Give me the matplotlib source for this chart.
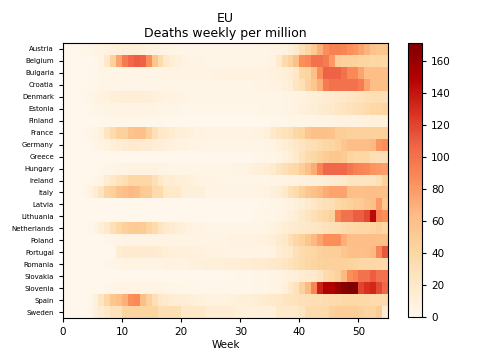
import numpy as np
import matplotlib
matplotlib.use("Agg")
import matplotlib.pyplot as plt

countries = ["Austria", "Belgium", "Bulgaria", "Croatia", "Denmark", "Estonia",
             "Finland", "France", "Germany", "Greece", "Hungary", "Ireland",
             "Italy", "Latvia", "Lithuania", "Netherlands", "Poland", "Portugal",
             "Romania", "Slovakia", "Slovenia", "Spain", "Sweden"]

# weekly deaths per million, weeks 0..54
austria = [1, 1, 1, 2, 3, 5, 6, 8, 9, 10,
           11, 12, 11, 10, 9, 7, 6, 5, 4, 4,
           3, 3, 3, 3, 3, 3, 3, 3, 3, 3,
           3, 3, 3, 4, 4, 5, 6, 8, 11, 18,
           30, 40, 52, 70, 85, 92, 92, 90, 85, 82,
           75, 68, 58, 55, 55]
belgium = [1, 1, 1, 1, 1, 2, 5, 20, 45, 75,
           95, 105, 110, 108, 85, 55, 35, 20, 14, 10,
           8, 6, 5, 5, 4, 4, 4, 4, 4, 4,
           4, 4, 4, 4, 5, 8, 18, 35, 45, 60,
           85, 88, 100, 100, 95, 80, 48, 45, 45, 44,
           42, 42, 40, 40, 38]
bulgaria = [1, 1, 1, 1, 2, 2, 3, 3, 3, 3,
            3, 4, 4, 4, 4, 4, 5, 5, 5, 5,
            5, 6, 6, 6, 6, 7, 7, 7, 7, 7,
            8, 8, 8, 8, 8, 9, 10, 12, 15, 22,
            40, 42, 60, 85, 108, 108, 108, 100, 88, 88,
            75, 62, 62, 62, 60]
croatia = [1, 1, 1, 1, 2, 2, 3, 3, 4, 4,
           4, 4, 4, 4, 4, 4, 4, 3, 3, 3,
           3, 3, 3, 3, 3, 3, 3, 3, 4, 4,
           4, 4, 5, 5, 6, 7, 8, 10, 14, 25,
           30, 45, 55, 70, 95, 100, 100, 100, 100, 100,
           95, 75, 62, 62, 62]
denmark = [1, 1, 1, 2, 3, 5, 7, 9, 11, 12,
           13, 14, 14, 13, 12, 10, 9, 8, 7, 6,
           5, 4, 3, 3, 3, 3, 3, 3, 3, 3,
           3, 3, 3, 3, 3, 4, 4, 5, 6, 7,
           8, 10, 12, 14, 16, 18, 20, 22, 24, 26,
           28, 30, 32, 32, 30]
estonia = [1, 1, 1, 1, 2, 3, 4, 5, 5, 6,
           6, 6, 6, 5, 5, 5, 4, 4, 3, 3,
           2, 2, 2, 2, 2, 2, 2, 2, 2, 2,
           2, 2, 2, 3, 3, 3, 4, 5, 6, 8,
           10, 12, 14, 16, 18, 20, 24, 26, 28, 30,
           32, 35, 38, 40, 42]
finland = [0, 0, 0, 1, 1, 1, 2, 2, 2, 2,
           2, 2, 2, 2, 2, 2, 2, 1, 1, 1,
           1, 1, 1, 1, 1, 1, 1, 1, 1, 1,
           1, 1, 1, 1, 1, 2, 2, 2, 3, 3,
           4, 4, 5, 5, 6, 6, 7, 7, 8, 8,
           9, 9, 10, 10, 10]
france = [1, 1, 1, 2, 3, 5, 10, 25, 35, 45,
          45, 58, 60, 60, 45, 30, 22, 20, 15, 12,
          12, 10, 8, 7, 6, 5, 5, 5, 5, 5,
          5, 6, 7, 8, 10, 20, 25, 28, 30, 40,
          42, 55, 60, 60, 60, 58, 48, 48, 46, 46,
          46, 46, 45, 45, 45]
germany = [1, 1, 1, 1, 2, 3, 5, 8, 12, 14,
           16, 18, 18, 17, 16, 14, 12, 10, 9, 8,
           7, 6, 5, 4, 4, 3, 3, 3, 3, 3,
           3, 3, 4, 4, 5, 6, 10, 14, 18, 22,
           26, 30, 32, 35, 40, 42, 45, 55, 62, 62,
           62, 62, 65, 82, 85]
greece = [0, 0, 0, 0, 1, 1, 1, 1, 1, 1,
          1, 1, 1, 1, 1, 1, 1, 1, 1, 1,
          1, 1, 1, 1, 1, 1, 1, 1, 1, 1,
          1, 1, 2, 2, 3, 4, 6, 9, 14, 20,
          28, 35, 40, 45, 50, 55, 55, 52, 42, 40,
          40, 40, 32, 30, 30]
hungary = [1, 1, 1, 1, 1, 1, 2, 3, 4, 5,
           6, 7, 8, 8, 8, 7, 6, 5, 4, 4,
           3, 3, 3, 3, 3, 3, 3, 3, 4, 5,
           6, 8, 10, 12, 14, 18, 25, 30, 35, 38,
           48, 60, 72, 90, 106, 106, 106, 106, 98, 92,
           90, 88, 82, 80, 78]
ireland = [1, 1, 1, 1, 2, 3, 6, 15, 22, 28,
           32, 40, 40, 40, 40, 30, 22, 15, 15, 12,
           12, 10, 8, 6, 5, 5, 4, 4, 4, 4,
           4, 4, 4, 4, 4, 5, 5, 6, 7, 8,
           9, 10, 11, 12, 14, 16, 18, 20, 25, 25,
           25, 25, 25, 30, 45]
italy = [1, 1, 1, 2, 8, 15, 25, 42, 45, 58,
         62, 65, 64, 52, 50, 35, 35, 22, 20, 20,
         12, 12, 12, 10, 6, 5, 5, 5, 5, 5,
         5, 5, 5, 6, 8, 10, 14, 20, 30, 35,
         45, 55, 60, 65, 72, 75, 75, 75, 62, 60,
         60, 62, 62, 60, 60]
latvia = [0, 0, 0, 0, 0, 0, 1, 1, 1, 1,
          1, 1, 1, 1, 1, 1, 1, 1, 1, 1,
          1, 1, 1, 1, 1, 1, 1, 1, 1, 1,
          1, 1, 1, 2, 2, 3, 4, 5, 7, 10,
          14, 18, 22, 28, 30, 32, 38, 42, 46, 50,
          50, 58, 62, 80, 55]
lithuania = [0, 0, 0, 0, 0, 0, 1, 1, 1, 1,
             1, 1, 1, 1, 1, 1, 1, 1, 1, 1,
             1, 1, 1, 1, 1, 1, 1, 1, 1, 1,
             1, 1, 2, 2, 3, 4, 5, 7, 10, 14,
             20, 25, 30, 35, 40, 45, 90, 100, 100, 110,
             110, 118, 145, 90, 85]
netherlands = [1, 1, 1, 1, 2, 6, 12, 20, 30, 40,
               45, 50, 52, 50, 42, 35, 25, 20, 16, 12,
               10, 8, 6, 5, 4, 4, 4, 4, 4, 4,
               4, 4, 4, 4, 5, 8, 10, 14, 16, 18,
               20, 22, 24, 26, 28, 30, 32, 35, 38, 38,
               40, 40, 42, 45, 40]
poland = [0, 0, 0, 0, 0, 0, 1, 2, 3, 4,
          5, 5, 6, 6, 6, 6, 6, 6, 6, 6,
          6, 6, 6, 6, 6, 6, 6, 6, 7, 7,
          7, 8, 8, 9, 10, 12, 16, 22, 30, 40,
          45, 55, 65, 75, 85, 85, 85, 70, 62, 62,
          62, 62, 62, 60, 60]
portugal = [0, 0, 0, 0, 0, 0, 0, 0, 0, 15,
            18, 18, 18, 18, 18, 16, 15, 12, 10, 10,
            10, 10, 9, 9, 8, 8, 8, 6, 5, 5,
            5, 5, 5, 5, 6, 8, 15, 18, 20, 30,
            35, 38, 40, 45, 48, 48, 48, 55, 60, 60,
            60, 62, 65, 90, 112]
romania = [0, 0, 0, 0, 0, 0, 1, 2, 3, 4,
           5, 5, 5, 5, 6, 6, 6, 7, 7, 8,
           8, 9, 10, 10, 11, 12, 12, 13, 14, 14,
           15, 15, 16, 17, 18, 20, 22, 24, 28, 32,
           36, 40, 42, 44, 45, 46, 46, 45, 44, 42,
           40, 40, 40, 38, 35]
slovakia = [0, 0, 0, 0, 0, 0, 1, 1, 1, 1,
            1, 1, 1, 1, 1, 1, 1, 1, 1, 1,
            1, 1, 1, 1, 1, 1, 1, 1, 1, 2,
            2, 2, 3, 3, 4, 5, 6, 8, 10, 12,
            15, 18, 20, 25, 35, 40, 45, 65, 85, 90,
            100, 100, 110, 100, 100]
slovenia = [0, 0, 0, 0, 0, 0, 1, 2, 3, 4,
            5, 6, 6, 6, 6, 5, 5, 4, 3, 3,
            2, 2, 2, 2, 2, 2, 2, 2, 2, 2,
            2, 2, 3, 3, 4, 5, 6, 10, 20, 28,
            45, 65, 90, 135, 150, 150, 160, 168, 171, 170,
            120, 128, 132, 118, 105]
spain = [0, 0, 0, 0, 2, 10, 25, 40, 55, 60,
         70, 85, 88, 62, 45, 30, 22, 18, 15, 14,
         13, 12, 10, 9, 8, 8, 8, 8, 9, 10,
         12, 12, 13, 15, 18, 20, 22, 25, 27, 28,
         30, 30, 32, 32, 34, 35, 36, 38, 38, 38,
         38, 38, 36, 36, 35]
sweden = [0, 0, 0, 0, 2, 10, 15, 20, 28, 28,
          42, 42, 42, 42, 42, 42, 32, 32, 32, 32,
          22, 22, 22, 22, 15, 15, 15, 15, 15, 12,
          10, 10, 10, 10, 10, 10, 20, 20, 20, 20,
          25, 35, 35, 35, 35, 45, 48, 48, 48, 48,
          46, 42, 42, 50, 15]

data = np.array([austria, belgium, bulgaria, croatia, denmark, estonia, finland,
                 france, germany, greece, hungary, ireland, italy, latvia,
                 lithuania, netherlands, poland, portugal, romania, slovakia,
                 slovenia, spain, sweden], dtype=float)
assert data.shape == (len(countries), 55)

fig = plt.figure(figsize=(4.8, 3.6), dpi=100)
ax = fig.add_axes([63 / 480, 1 - 318 / 360, 325 / 480, 275 / 360])
cax = fig.add_axes([408 / 480, 1 - 317 / 360, 14 / 480, 274 / 360])

weeks = np.arange(data.shape[1] + 1)
rows = np.arange(len(countries) + 1)
mesh = ax.pcolormesh(weeks, rows, data, cmap="OrRd", vmin=0, vmax=data.max())
ax.set_ylim(len(countries), 0)
ax.set_xlim(0, data.shape[1])

ax.set_yticks(np.arange(len(countries)) + 0.5)
ax.set_yticklabels(countries, fontsize=5)
ax.set_xticks([0, 10, 20, 30, 40, 50])
ax.tick_params(axis="x", labelsize=7.5, length=3)
ax.tick_params(axis="y", length=3)
ax.set_xlabel("Week", fontsize=7.5, labelpad=2)
ax.set_title("EU\nDeaths weekly per million", fontsize=9, pad=4)

cb = fig.colorbar(mesh, cax=cax)
cb.set_ticks([0, 20, 40, 60, 80, 100, 120, 140, 160])
cb.ax.tick_params(labelsize=7.5, length=3)

fig.savefig("out.png", dpi=100)
